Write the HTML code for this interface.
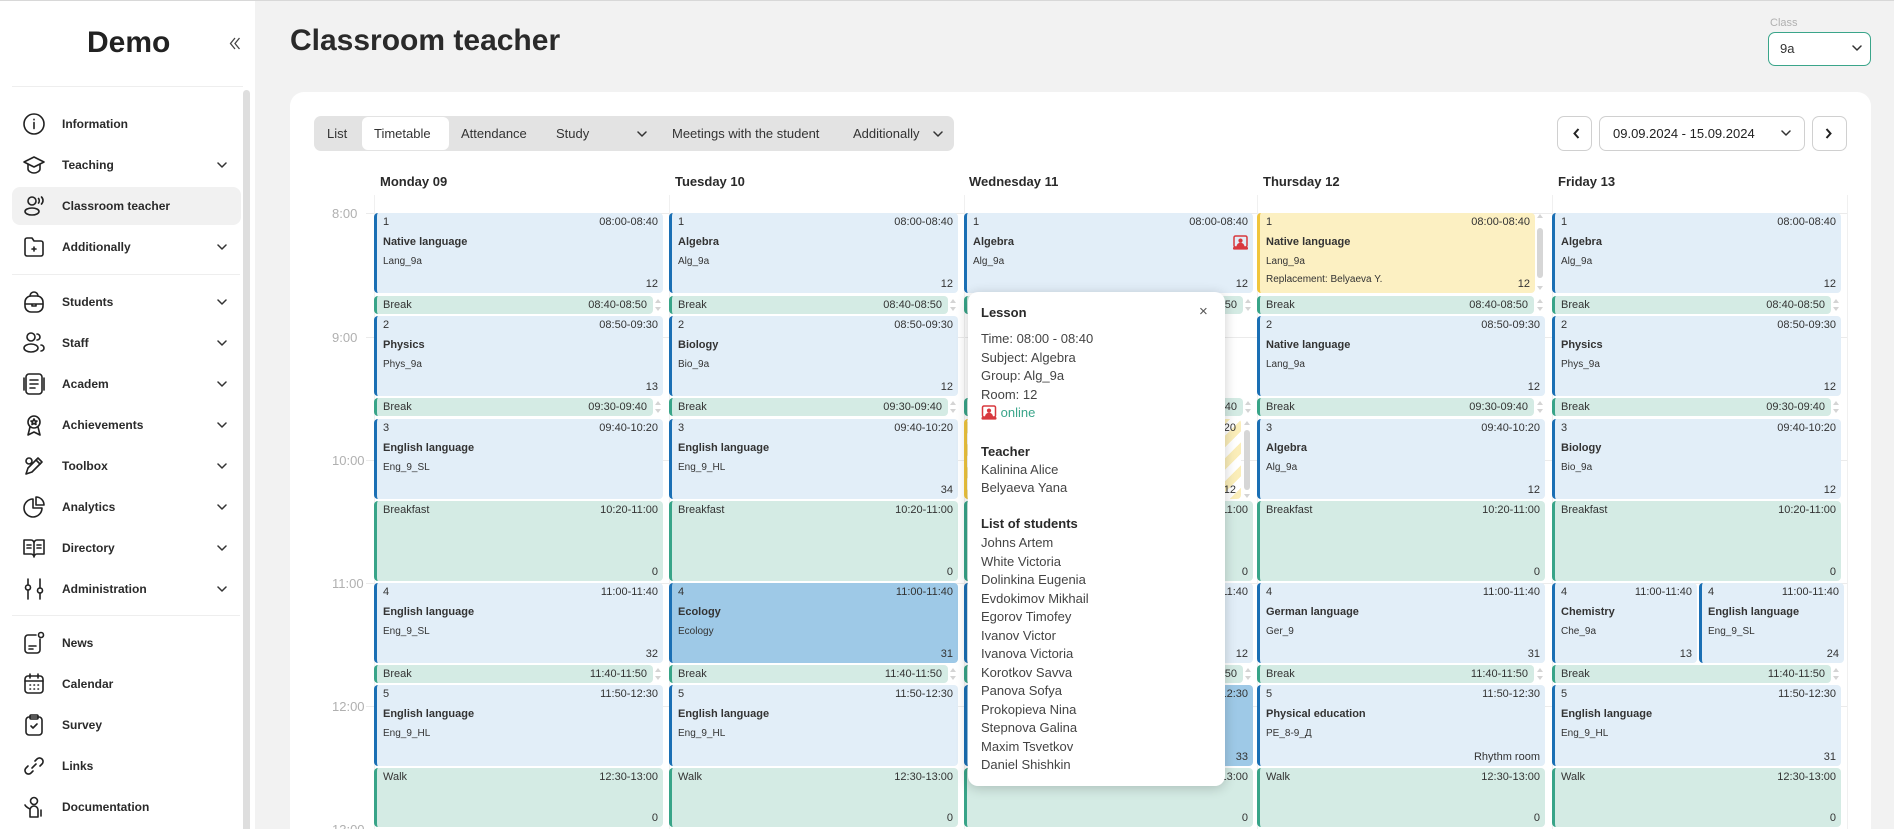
<!DOCTYPE html>
<html><head><meta charset="utf-8">
<style>
*{box-sizing:border-box}
html{width:1894px;height:829px;overflow:hidden}
body{margin:0;width:1894px;height:829px;overflow:hidden;background:#f2f2f2;font-family:"Liberation Sans",sans-serif;position:relative;color:#2a2a2a}
.a{position:absolute}
.side{left:0;top:0;width:255px;height:829px;background:#fff}
.mi{position:absolute;left:62px;font-size:12px;line-height:16px;font-weight:bold;color:#2a2a2a;white-space:nowrap}
.ic{position:absolute;left:22px;width:24px;height:24px}
.ic *{fill:none;stroke:#222;stroke-width:1.6;stroke-linecap:round;stroke-linejoin:round}
.ch{position:absolute;left:217px;width:10px;height:6px}
.ch polyline,.tc polyline{fill:none;stroke:#333;stroke-width:1.5;stroke-linecap:round;stroke-linejoin:round}
.col{position:absolute;top:0;width:289px;height:829px}
.k{position:absolute;left:0;width:100%;border-radius:4px;font-size:11px;line-height:14px;color:#333;overflow:hidden;white-space:nowrap}
.k i{font-style:normal;position:absolute}
.L{background:#e2eef8;border-left:3px solid #1a6fb4}
.D{background:#9ec9e7;border-left:3px solid #1a6fb4}
.G{background:#d4ebe4;border-left:3px solid #38a488}
.Y{background:#fcf0c2;border-left:3px solid #f0c53c}
.S{background:repeating-linear-gradient(-45deg,#fbeeb9 0 8px,#ffffff 8px 16px);border-left:3px solid #f0c53c}
.n{left:6px;top:2px}
.t{right:5px;top:2px}
.s{left:6px;top:22px;font-weight:bold}
.g{left:6px;top:42px;font-size:10px}
.r{right:5px;bottom:2px}
.bk{width:279px;height:18px}
.bk .t{right:6px}
.ud{position:absolute;right:1px;width:7px;height:18px}
.ud:before{content:"";position:absolute;left:0;top:3px;border-left:3.5px solid transparent;border-right:3.5px solid transparent;border-bottom:4px solid #d4d4d4}
.ud:after{content:"";position:absolute;left:0;top:11px;border-left:3.5px solid transparent;border-right:3.5px solid transparent;border-top:4px solid #d4d4d4}
.h80{height:80px}
.tl{position:absolute;left:332px;font-size:13px;line-height:16px;color:#b0b0b0}
.gl{position:absolute;left:366px;width:1482px;height:1px;background:#ebebeb}
.vl{position:absolute;top:195px;width:1px;height:634px;background:#f0f0f0}
.dh{position:absolute;top:174px;font-size:13px;line-height:16px;font-weight:bold;color:#2a2a2a}
.tab{position:absolute;top:125px;font-size:13px;line-height:18px;color:#333;white-space:nowrap}
.btn{position:absolute;top:116px;height:35px;border:1px solid #d0d0d0;border-radius:7px;background:#fff}
.pop{left:968px;top:292px;width:257px;height:494px;background:#fff;border-radius:10px;box-shadow:0 2px 12px rgba(0,0,0,.2)}
.pt{position:absolute;left:13px;font-size:13px;line-height:18px;color:#444;white-space:nowrap}
.pb{font-weight:bold;color:#2a2a2a}
</style></head><body>

<!-- top line -->
<div class="a" style="left:0;top:0;width:1894px;height:1px;background:#d8d8d8;z-index:5"></div>

<!-- SIDEBAR -->
<div class="a side"></div>
<div class="a" style="left:87px;top:25px;font-size:30px;line-height:36px;font-weight:bold;color:#222">Demo</div>
<svg class="a" style="left:229px;top:37px" width="12" height="13" viewBox="0 0 12 13"><polyline points="6,1 1.5,6.5 6,12" fill="none" stroke="#444" stroke-width="1.3"/><polyline points="10.5,1 6,6.5 10.5,12" fill="none" stroke="#444" stroke-width="1.3"/></svg>
<div class="a" style="left:12px;top:86px;width:231px;height:1px;background:#eeeeee"></div>
<div class="a" style="left:12px;top:274px;width:228px;height:1px;background:#eeeeee"></div>
<div class="a" style="left:12px;top:615px;width:228px;height:1px;background:#eeeeee"></div>
<div class="a" style="left:243px;top:90px;width:7px;height:739px;background:#dedede;border-radius:4px 4px 0 0"></div>
<div class="a" style="left:12px;top:187px;width:229px;height:38px;background:#f1f1f1;border-radius:8px"></div>

<svg class="ic" style="top:112px" viewBox="0 0 24 24"><circle cx="12" cy="12" r="10"/><path d="M12 10.5v6M12 7.3v.4"/></svg>
<div class="mi" style="top:116px">Information</div>

<svg class="ic" style="top:153px" viewBox="0 0 24 24"><path d="M2 9l10-5 10 5-10 5z"/><path d="M6 11v5c0 2 3 4 6 4s6-2 6-4v-5"/></svg>
<div class="mi" style="top:157px">Teaching</div>
<svg class="ch" style="top:162px" viewBox="0 0 10 6"><polyline points="1,1 5,5 9,1"/></svg>

<svg class="ic" style="top:194px" viewBox="0 0 24 24"><circle cx="10" cy="7" r="4"/><ellipse cx="10" cy="17.5" rx="7" ry="3.5"/><path d="M16.5 4.5c1 1 1 3.5 0 4.5M19.5 3c2 2 2 5 0 7"/></svg>
<div class="mi" style="top:198px">Classroom teacher</div>

<svg class="ic" style="top:235px" viewBox="0 0 24 24"><path d="M3 5a2 2 0 0 1 2-2h5l2 3h7a2 2 0 0 1 2 2v11a2 2 0 0 1-2 2H5a2 2 0 0 1-2-2z"/><path d="M12 12v4M10 14h4"/></svg>
<div class="mi" style="top:239px">Additionally</div>
<svg class="ch" style="top:244px" viewBox="0 0 10 6"><polyline points="1,1 5,5 9,1"/></svg>

<svg class="ic" style="top:290px" viewBox="0 0 24 24"><rect x="3" y="6" width="18" height="16" rx="6"/><path d="M8 6a4 4 0 0 1 8 0M3 14h18M10 14v2h4v-2"/></svg>
<div class="mi" style="top:294px">Students</div>
<svg class="ch" style="top:299px" viewBox="0 0 10 6"><polyline points="1,1 5,5 9,1"/></svg>

<svg class="ic" style="top:331px" viewBox="0 0 24 24"><circle cx="9" cy="6" r="4"/><ellipse cx="9" cy="17" rx="7" ry="4"/><path d="M15 3a3 3 0 0 1 0 6M19 14a3 3 0 0 1 0 6"/></svg>
<div class="mi" style="top:335px">Staff</div>
<svg class="ch" style="top:340px" viewBox="0 0 10 6"><polyline points="1,1 5,5 9,1"/></svg>

<svg class="ic" style="top:372px" viewBox="0 0 24 24"><rect x="4" y="2" width="16" height="20" rx="3"/><path d="M8 8h8M8 12h8M8 16h5M2 6v12M22 6v12"/></svg>
<div class="mi" style="top:376px">Academ</div>
<svg class="ch" style="top:381px" viewBox="0 0 10 6"><polyline points="1,1 5,5 9,1"/></svg>

<svg class="ic" style="top:413px" viewBox="0 0 24 24"><circle cx="12" cy="9" r="6"/><path d="M8 14l-2 8 6-3 6 3-2-8"/><path d="M12 6l1 2h2l-1.5 1.5.5 2-2-1-2 1 .5-2L9 8h2z"/></svg>
<div class="mi" style="top:417px">Achievements</div>
<svg class="ch" style="top:422px" viewBox="0 0 10 6"><polyline points="1,1 5,5 9,1"/></svg>

<svg class="ic" style="top:454px" viewBox="0 0 24 24"><path d="M4 20l2-6 10-10 4 4-10 10z"/><path d="M14 6l4 4"/><circle cx="7" cy="7" r="3"/></svg>
<div class="mi" style="top:458px">Toolbox</div>
<svg class="ch" style="top:463px" viewBox="0 0 10 6"><polyline points="1,1 5,5 9,1"/></svg>

<svg class="ic" style="top:495px" viewBox="0 0 24 24"><path d="M11 4a9 9 0 1 0 9 9h-9z"/><path d="M14 2a8 8 0 0 1 8 8h-8z"/></svg>
<div class="mi" style="top:499px">Analytics</div>
<svg class="ch" style="top:504px" viewBox="0 0 10 6"><polyline points="1,1 5,5 9,1"/></svg>

<svg class="ic" style="top:536px" viewBox="0 0 24 24"><path d="M2 4h7a3 3 0 0 1 3 3v14a3 3 0 0 0-3-3H2zM22 4h-7a3 3 0 0 0-3 3v14a3 3 0 0 1 3-3h7z"/><path d="M5 9h4M5 12h4M15 9h4M15 12h4"/></svg>
<div class="mi" style="top:540px">Directory</div>
<svg class="ch" style="top:545px" viewBox="0 0 10 6"><polyline points="1,1 5,5 9,1"/></svg>

<svg class="ic" style="top:577px" viewBox="0 0 24 24"><path d="M6 2v6M6 13v9M18 2v9M18 16v6"/><circle cx="6" cy="10.5" r="2.5"/><circle cx="18" cy="13.5" r="2.5"/></svg>
<div class="mi" style="top:581px">Administration</div>
<svg class="ch" style="top:586px" viewBox="0 0 10 6"><polyline points="1,1 5,5 9,1"/></svg>

<svg class="ic" style="top:631px" viewBox="0 0 24 24"><path d="M18 8v11a3 3 0 0 1-3 3H6a3 3 0 0 1-3-3V7a3 3 0 0 1 3-3h8"/><circle cx="19" cy="4" r="2.5"/><path d="M7 15h7M7 18h4"/></svg>
<div class="mi" style="top:635px">News</div>

<svg class="ic" style="top:672px" viewBox="0 0 24 24"><rect x="3" y="4" width="18" height="17" rx="3"/><path d="M3 9h18M8 2v4M16 2v4M8 13h.5M12 13h.5M16 13h.5M8 17h.5M12 17h.5M16 17h.5"/></svg>
<div class="mi" style="top:676px">Calendar</div>

<svg class="ic" style="top:713px" viewBox="0 0 24 24"><rect x="4" y="4" width="16" height="18" rx="3"/><rect x="8" y="2" width="8" height="4" rx="1"/><path d="M9 13l2 2 4-4"/></svg>
<div class="mi" style="top:717px">Survey</div>

<svg class="ic" style="top:754px" viewBox="0 0 24 24"><path d="M10 14l4-4"/><path d="M13 7l2-2a3.5 3.5 0 0 1 5 5l-2 2"/><path d="M11 17l-2 2a3.5 3.5 0 0 1-5-5l2-2"/></svg>
<div class="mi" style="top:758px">Links</div>

<svg class="ic" style="top:795px" viewBox="0 0 24 24"><circle cx="12" cy="6" r="3.5"/><path d="M8 22v-7a4 4 0 0 1 8 0v7z"/><path d="M3 10c1 2 3 3 5 4M19 15v6"/></svg>
<div class="mi" style="top:799px">Documentation</div>

<!-- HEADER -->
<div class="a" style="left:290px;top:23px;font-size:30px;line-height:36px;font-weight:bold;color:#2a2a2a;white-space:nowrap">Classroom teacher</div>
<div class="a" style="left:1770px;top:16px;font-size:11px;line-height:14px;color:#b0b0b0">Class</div>
<div class="a" style="left:1768px;top:32px;width:103px;height:34px;border:1px solid #3aa58a;border-radius:7px;background:#fff"></div>
<div class="a" style="left:1780px;top:41px;font-size:13px;line-height:16px;color:#333">9a</div>
<svg class="a tc" style="left:1852px;top:45px" width="10" height="6" viewBox="0 0 10 6"><polyline points="1,1 5,5 9,1"/></svg>

<!-- PANEL -->
<div class="a" style="left:290px;top:92px;width:1581px;height:737px;background:#fff;border-radius:14px 14px 0 0"></div>

<!-- tabs -->
<div class="a" style="left:314px;top:116px;width:640px;height:35px;background:#e3e3e3;border-radius:7px"></div>
<div class="a" style="left:362px;top:117px;width:87px;height:33px;background:#fff;border-radius:6px"></div>
<div class="tab" style="left:327px">List</div>
<div class="tab" style="left:374px">Timetable</div>
<div class="tab" style="left:461px">Attendance</div>
<div class="tab" style="left:556px">Study</div>
<svg class="a tc" style="left:637px;top:131px" width="10" height="6" viewBox="0 0 10 6"><polyline points="1,1 5,5 9,1"/></svg>
<div class="tab" style="left:672px">Meetings with the student</div>
<div class="tab" style="left:853px">Additionally</div>
<svg class="a tc" style="left:933px;top:131px" width="10" height="6" viewBox="0 0 10 6"><polyline points="1,1 5,5 9,1"/></svg>

<!-- date nav -->
<div class="btn" style="left:1557px;width:35px"></div>
<svg class="a" style="left:1573px;top:128px" width="7" height="11" viewBox="0 0 7 11"><polyline points="5.5,1 1.5,5.5 5.5,10" fill="none" stroke="#222" stroke-width="2"/></svg>
<div class="btn" style="left:1599px;width:206px"></div>
<div class="a" style="left:1613px;top:125px;font-size:13px;line-height:18px;color:#222;white-space:nowrap">09.09.2024 - 15.09.2024</div>
<svg class="a tc" style="left:1781px;top:130px" width="10" height="6" viewBox="0 0 10 6"><polyline points="1,1 5,5 9,1"/></svg>
<div class="btn" style="left:1812px;width:35px"></div>
<svg class="a" style="left:1825px;top:128px" width="7" height="11" viewBox="0 0 7 11"><polyline points="1.5,1 5.5,5.5 1.5,10" fill="none" stroke="#222" stroke-width="2"/></svg>

<!-- day headers -->
<div class="dh" style="left:380px">Monday 09</div>
<div class="dh" style="left:675px">Tuesday 10</div>
<div class="dh" style="left:969px">Wednesday 11</div>
<div class="dh" style="left:1263px">Thursday 12</div>
<div class="dh" style="left:1558px">Friday 13</div>

<!-- grid -->
<div class="gl" style="top:213px"></div>
<div class="gl" style="top:337px"></div>
<div class="gl" style="top:460px"></div>
<div class="gl" style="top:583px"></div>
<div class="gl" style="top:706px"></div>
<div class="vl" style="left:374px"></div>
<div class="vl" style="left:669px"></div>
<div class="vl" style="left:964px"></div>
<div class="vl" style="left:1257px"></div>
<div class="vl" style="left:1552px"></div>
<div class="vl" style="left:1847px"></div>

<div class="tl" style="top:206px">8:00</div>
<div class="tl" style="top:330px">9:00</div>
<div class="tl" style="top:453px">10:00</div>
<div class="tl" style="top:576px">11:00</div>
<div class="tl" style="top:699px">12:00</div>
<div class="tl" style="top:822px">13:00</div>

<!-- MONDAY -->
<div class="col" style="left:374px">
<div class="k L h80" style="top:213px"><i class="n">1</i><i class="t">08:00-08:40</i><i class="s">Native language</i><i class="g">Lang_9a</i><i class="r">12</i></div>
<div class="k G bk" style="top:296px"><i class="n">Break</i><i class="t">08:40-08:50</i></div><div class="ud" style="top:296px"></div>
<div class="k L h80" style="top:316px"><i class="n">2</i><i class="t">08:50-09:30</i><i class="s">Physics</i><i class="g">Phys_9a</i><i class="r">13</i></div>
<div class="k G bk" style="top:398px"><i class="n">Break</i><i class="t">09:30-09:40</i></div><div class="ud" style="top:398px"></div>
<div class="k L h80" style="top:419px"><i class="n">3</i><i class="t">09:40-10:20</i><i class="s">English language</i><i class="g">Eng_9_SL</i></div>
<div class="k G h80" style="top:501px"><i class="n">Breakfast</i><i class="t">10:20-11:00</i><i class="r">0</i></div>
<div class="k L h80" style="top:583px"><i class="n">4</i><i class="t">11:00-11:40</i><i class="s">English language</i><i class="g">Eng_9_SL</i><i class="r">32</i></div>
<div class="k G bk" style="top:665px"><i class="n">Break</i><i class="t">11:40-11:50</i></div><div class="ud" style="top:665px"></div>
<div class="k L" style="top:685px;height:81px"><i class="n">5</i><i class="t">11:50-12:30</i><i class="s">English language</i><i class="g">Eng_9_HL</i></div>
<div class="k G" style="top:768px;height:59px"><i class="n">Walk</i><i class="t">12:30-13:00</i><i class="r">0</i></div>
</div>

<!-- TUESDAY -->
<div class="col" style="left:669px">
<div class="k L h80" style="top:213px"><i class="n">1</i><i class="t">08:00-08:40</i><i class="s">Algebra</i><i class="g">Alg_9a</i><i class="r">12</i></div>
<div class="k G bk" style="top:296px"><i class="n">Break</i><i class="t">08:40-08:50</i></div><div class="ud" style="top:296px"></div>
<div class="k L h80" style="top:316px"><i class="n">2</i><i class="t">08:50-09:30</i><i class="s">Biology</i><i class="g">Bio_9a</i><i class="r">12</i></div>
<div class="k G bk" style="top:398px"><i class="n">Break</i><i class="t">09:30-09:40</i></div><div class="ud" style="top:398px"></div>
<div class="k L h80" style="top:419px"><i class="n">3</i><i class="t">09:40-10:20</i><i class="s">English language</i><i class="g">Eng_9_HL</i><i class="r">34</i></div>
<div class="k G h80" style="top:501px"><i class="n">Breakfast</i><i class="t">10:20-11:00</i><i class="r">0</i></div>
<div class="k D h80" style="top:583px"><i class="n">4</i><i class="t">11:00-11:40</i><i class="s">Ecology</i><i class="g">Ecology</i><i class="r">31</i></div>
<div class="k G bk" style="top:665px"><i class="n">Break</i><i class="t">11:40-11:50</i></div><div class="ud" style="top:665px"></div>
<div class="k L" style="top:685px;height:81px"><i class="n">5</i><i class="t">11:50-12:30</i><i class="s">English language</i><i class="g">Eng_9_HL</i></div>
<div class="k G" style="top:768px;height:59px"><i class="n">Walk</i><i class="t">12:30-13:00</i><i class="r">0</i></div>
</div>

<!-- WEDNESDAY -->
<div class="col" style="left:964px">
<div class="k L h80" style="top:213px"><i class="n">1</i><i class="t">08:00-08:40</i><i class="s">Algebra</i><i class="g">Alg_9a</i><i class="r">12</i>
<svg style="position:absolute;right:5px;top:22px" width="15" height="15" viewBox="0 0 15 15"><rect x="1" y="1" width="13" height="11" rx="1.5" fill="none" stroke="#d8383e" stroke-width="1.5"/><circle cx="7.5" cy="5.6" r="2.1" fill="#d8383e"/><path d="M3.5 12c0-3 2-4.3 4-4.3s4 1.3 4 4.3z" fill="#d8383e"/><rect x="0" y="12" width="15" height="2.6" rx="1" fill="#d8383e"/></svg></div>
<div class="k G bk" style="top:296px"><i class="n">Break</i><i class="t">08:40-08:50</i></div><div class="ud" style="top:296px"></div>
<div class="k G bk" style="top:398px"><i class="n">Break</i><i class="t">09:30-09:40</i></div><div class="ud" style="top:398px"></div>
<div class="k S" style="top:419px;width:277px;height:80px"><i class="n">3</i><i class="t">09:40-10:20</i><i class="s">History</i><i class="g">Hist_9a</i><i class="r">12</i></div>
<div class="a" style="left:280px;top:421px;border-left:3px solid transparent;border-right:3px solid transparent;border-bottom:4px solid #d4d4d4;width:0;height:0"></div>
<div class="a" style="left:280px;top:430px;width:6px;height:60px;background:#d6d6d6;border-radius:3px"></div>
<div class="a" style="left:280px;top:494px;border-left:3px solid transparent;border-right:3px solid transparent;border-top:4px solid #d4d4d4;width:0;height:0"></div>
<div class="k G h80" style="top:501px"><i class="n">Breakfast</i><i class="t">10:20-11:00</i><i class="r">0</i></div>
<div class="k L h80" style="top:583px"><i class="n">4</i><i class="t">11:00-11:40</i><i class="s">Physics</i><i class="g">Phys_9a</i><i class="r">12</i></div>
<div class="k G bk" style="top:665px"><i class="n">Break</i><i class="t">11:40-11:50</i></div><div class="ud" style="top:665px"></div>
<div class="k D" style="top:685px;height:81px"><i class="n">5</i><i class="t">11:50-12:30</i><i class="s">Ecology</i><i class="g">Ecology</i><i class="r">33</i></div>
<div class="k G" style="top:768px;height:59px"><i class="n">Walk</i><i class="t">12:30-13:00</i><i class="r">0</i></div>
</div>

<!-- THURSDAY -->
<div class="col" style="left:1257px;width:288px">
<div class="k Y" style="top:213px;width:278px;height:80px"><i class="n">1</i><i class="t">08:00-08:40</i><i class="s">Native language</i><i class="g">Lang_9a</i><i class="g" style="top:60px">Replacement: Belyaeva Y.</i><i class="r">12</i></div>
<div class="a" style="left:280px;top:214px;border-left:3px solid transparent;border-right:3px solid transparent;border-bottom:4px solid #d4d4d4;width:0;height:0"></div>
<div class="a" style="left:280px;top:228px;width:6px;height:50px;background:#d6d6d6;border-radius:3px"></div>
<div class="a" style="left:280px;top:286px;border-left:3px solid transparent;border-right:3px solid transparent;border-top:4px solid #d4d4d4;width:0;height:0"></div>
<div class="k G bk" style="top:296px;width:277px"><i class="n">Break</i><i class="t">08:40-08:50</i></div><div class="ud" style="top:296px"></div>
<div class="k L h80" style="top:316px"><i class="n">2</i><i class="t">08:50-09:30</i><i class="s">Native language</i><i class="g">Lang_9a</i><i class="r">12</i></div>
<div class="k G bk" style="top:398px;width:277px"><i class="n">Break</i><i class="t">09:30-09:40</i></div><div class="ud" style="top:398px"></div>
<div class="k L h80" style="top:419px"><i class="n">3</i><i class="t">09:40-10:20</i><i class="s">Algebra</i><i class="g">Alg_9a</i><i class="r">12</i></div>
<div class="k G h80" style="top:501px"><i class="n">Breakfast</i><i class="t">10:20-11:00</i><i class="r">0</i></div>
<div class="k L h80" style="top:583px"><i class="n">4</i><i class="t">11:00-11:40</i><i class="s">German language</i><i class="g">Ger_9</i><i class="r">31</i></div>
<div class="k G bk" style="top:665px;width:277px"><i class="n">Break</i><i class="t">11:40-11:50</i></div><div class="ud" style="top:665px"></div>
<div class="k L" style="top:685px;height:81px"><i class="n">5</i><i class="t">11:50-12:30</i><i class="s">Physical education</i><i class="g">PE_8-9_Д</i><i class="r">Rhythm room</i></div>
<div class="k G" style="top:768px;height:59px"><i class="n">Walk</i><i class="t">12:30-13:00</i><i class="r">0</i></div>
</div>

<!-- FRIDAY -->
<div class="col" style="left:1552px">
<div class="k L h80" style="top:213px"><i class="n">1</i><i class="t">08:00-08:40</i><i class="s">Algebra</i><i class="g">Alg_9a</i><i class="r">12</i></div>
<div class="k G bk" style="top:296px"><i class="n">Break</i><i class="t">08:40-08:50</i></div><div class="ud" style="top:296px"></div>
<div class="k L h80" style="top:316px"><i class="n">2</i><i class="t">08:50-09:30</i><i class="s">Physics</i><i class="g">Phys_9a</i><i class="r">12</i></div>
<div class="k G bk" style="top:398px"><i class="n">Break</i><i class="t">09:30-09:40</i></div><div class="ud" style="top:398px"></div>
<div class="k L h80" style="top:419px"><i class="n">3</i><i class="t">09:40-10:20</i><i class="s">Biology</i><i class="g">Bio_9a</i><i class="r">12</i></div>
<div class="k G h80" style="top:501px"><i class="n">Breakfast</i><i class="t">10:20-11:00</i><i class="r">0</i></div>
<div class="k L h80" style="top:583px;width:145px"><i class="n">4</i><i class="t">11:00-11:40</i><i class="s">Chemistry</i><i class="g">Che_9a</i><i class="r">13</i></div>
<div class="k L h80" style="top:583px;left:147px;width:145px"><i class="n">4</i><i class="t">11:00-11:40</i><i class="s">English language</i><i class="g">Eng_9_SL</i><i class="r">24</i></div>
<div class="k G bk" style="top:665px"><i class="n">Break</i><i class="t">11:40-11:50</i></div><div class="ud" style="top:665px"></div>
<div class="k L" style="top:685px;height:81px"><i class="n">5</i><i class="t">11:50-12:30</i><i class="s">English language</i><i class="g">Eng_9_HL</i><i class="r">31</i></div>
<div class="k G" style="top:768px;height:59px"><i class="n">Walk</i><i class="t">12:30-13:00</i><i class="r">0</i></div>
</div>

<!-- POPUP -->
<div class="a pop">
<div class="pt pb" style="top:12px">Lesson</div>
<div class="a" style="left:231px;top:11px;font-size:15px;line-height:18px;color:#555">×</div>
<div class="pt" style="top:38px;line-height:18.5px">Time: 08:00 - 08:40<br>Subject: Algebra<br>Group: Alg_9a<br>Room: 12<br><svg style="vertical-align:-3px" width="16" height="15" viewBox="0 0 15 15"><rect x="1" y="1" width="13" height="11" rx="1.5" fill="none" stroke="#d8383e" stroke-width="1.5"/><circle cx="7.5" cy="5.6" r="2.1" fill="#d8383e"/><path d="M3.5 12c0-3 2-4.3 4-4.3s4 1.3 4 4.3z" fill="#d8383e"/><rect x="0" y="12" width="15" height="2.6" rx="1" fill="#d8383e"/></svg> <span style="color:#3aa58a">online</span></div>
<div class="pt pb" style="top:151px">Teacher</div>
<div class="pt" style="top:169px">Kalinina Alice</div>
<div class="pt" style="top:187px">Belyaeva Yana</div>
<div class="pt pb" style="top:223px">List of students</div>
<div class="pt" style="top:242px;line-height:18.5px">Johns Artem<br>White Victoria<br>Dolinkina Eugenia<br>Evdokimov Mikhail<br>Egorov Timofey<br>Ivanov Victor<br>Ivanova Victoria<br>Korotkov Savva<br>Panova Sofya<br>Prokopieva Nina<br>Stepnova Galina<br>Maxim Tsvetkov<br>Daniel Shishkin</div>
</div>

</body></html>
